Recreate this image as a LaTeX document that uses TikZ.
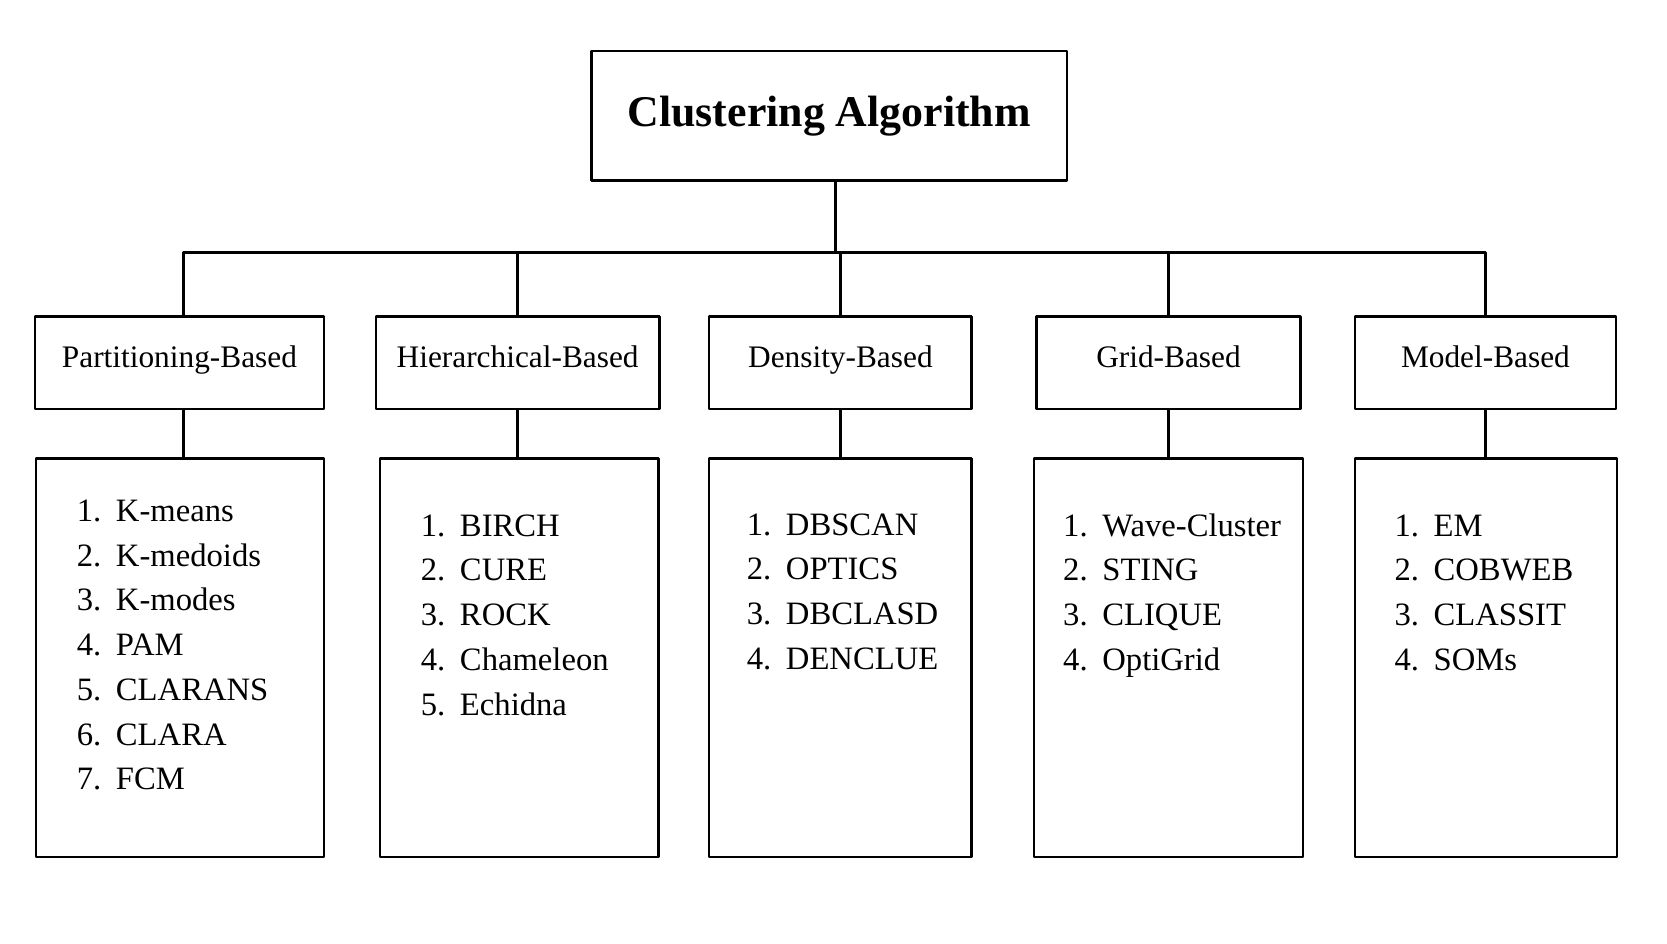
\documentclass[tikz,border=0pt]{standalone}
\usepackage{fontspec}
\setmainfont{Liberation Serif}
\usetikzlibrary{positioning}
\tikzset{
  box/.style={draw, line width=1.3pt, rectangle, inner sep=0pt},
  link/.style={line width=1.3pt},
}
\newcommand{\algolist}[1]{\begin{tabular}[t]{@{}l@{\hspace{0.45em}}l@{}}#1\end{tabular}}
\renewcommand{\arraystretch}{1.2}

\begin{document}
\begin{tikzpicture}[x=0.02cm, y=-0.02cm, line join=round]
\useasboundingbox (0,0) rectangle (1570,889);
% root
\node[box, minimum width=448*0.02cm, minimum height=122*0.02cm] (root) at (781,109)
  {\fontsize{23.5}{28}\selectfont\bfseries Clustering Algorithm};
% categories
\foreach \name/\x/\w/\txt in {part/169/272/Partitioning-Based, hier/487.5/267/Hierarchical-Based,
  dens/791.5/247/Density-Based, grid/1100.5/249/Grid-Based, model/1399/246/Model-Based}
  \node[box, minimum width=\w*0.02cm, minimum height=87*0.02cm, text height=0.7em, text depth=0.22em,
    font=\fontsize{16.8}{20}\selectfont] (\name) at (\x,341.5) {\txt};
% list boxes
\foreach \name/\x/\w in {partl/169.5/271, hierl/489/262, densl/791.5/247, gridl/1100.5/253, modell/1399.5/247}
  \node[box, minimum width=\w*0.02cm, minimum height=375*0.02cm] (\name) at (\x,619.5) {};
% lists
\begin{scope}[every node/.style={anchor=base west, inner sep=0pt, font=\fontsize{17.5}{20}\selectfont}]
\node (partt) at (72,491) {\algolist{1.&K-means\\2.&K-medoids\\3.&K-modes\\4.&PAM\\5.&CLARANS\\6.&CLARA\\7.&FCM}};
\node (hiert) at (396,505) {\algolist{1.&BIRCH\\2.&CURE\\3.&ROCK\\4.&Chameleon\\5.&Echidna}};
\node (denst) at (703,504) {\algolist{1.&DBSCAN\\2.&OPTICS\\3.&DBCLASD\\4.&DENCLUE}};
\node (gridt) at (1001,505) {\algolist{1.&Wave-Cluster\\2.&STING\\3.&CLIQUE\\4.&OptiGrid}};
\node (modelt) at (1313,505) {\algolist{1.&EM\\2.&COBWEB\\3.&CLASSIT\\4.&SOMs}};
\end{scope}
% connectors
\coordinate (bar) at (787,238);
\draw[link] (root.south -| bar) -- (bar);
\draw[link] (part.north -| 173,0) |- (bar) -| (model.north);
\foreach \n in {hier,dens,grid}
  \draw[link] (\n.north) -- (\n.north |- bar);
\draw[link] (part.south -| 173,0) -- (partl.north -| 173,0);
\foreach \n/\l in {hier/hierl,dens/densl,grid/gridl,model/modell}
  \draw[link] (\n.south) -- (\n.south |- \l.north);
\end{tikzpicture}
\end{document}
